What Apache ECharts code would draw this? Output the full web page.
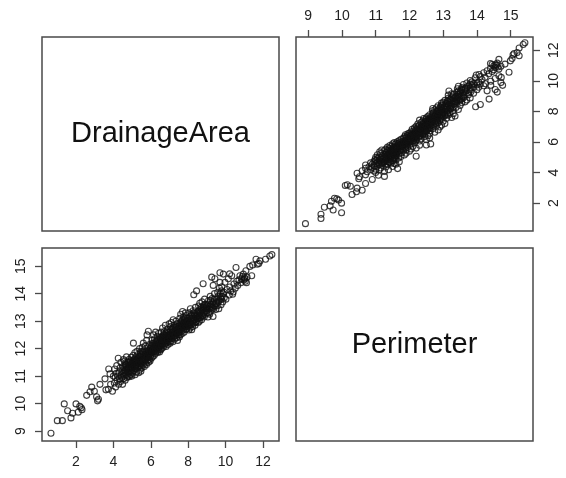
<!DOCTYPE html>
<html>
<head>
<meta charset="utf-8">
<script src="https://cdn.jsdelivr.net/npm/echarts@6/dist/echarts.min.js"></script>
<style>
  html, body { margin: 0; padding: 0; background: #fff; }
  #main { width: 566px; height: 478px; }
</style>
</head>
<body>
<div id="main"></div>
<script>
// variable names shown on the diagonal
var varNames = ['DrainageArea', 'Perimeter'];

// tick values of each variable
var areaTicks = [2, 4, 6, 8, 10, 12];
var perimTicks = [9, 10, 11, 12, 13, 14, 15];

// axis ranges (data range + 4%)
var areaRange = [0.18, 12.86];
var perimRange = [8.64, 15.66];

var obs = [
  [0.66,8.92],[1.0,9.38],[1.27,9.38],[1.37,9.99],[1.55,9.74],[1.73,9.48],[1.82,9.65],[2.0,9.99],[2.12,9.69],[2.2,9.9],
  [2.28,9.85],[2.32,9.78],[2.57,10.3],[2.75,10.43],[2.84,10.6],[2.98,10.45],[3.1,10.25],[3.15,10.1],[3.2,10.16],[3.28,10.7],
  [3.55,10.9],[3.6,10.5],[3.73,10.52],[3.75,11.26],[3.82,11.08],[3.85,10.7],[3.95,10.45],[4.0,11.0],[4.07,11.26],
  [4.05,10.75],[4.1,10.95],[4.12,10.6],[4.15,11.1],[4.18,11.38],[4.2,10.85],[4.22,11.0],[4.26,11.65],[4.28,10.7],[4.3,11.15],
  [4.33,10.9],[4.36,11.3],[4.38,10.8],[4.4,11.5],[4.42,11.05],[4.45,10.95],[4.47,11.2],[4.49,10.7],
  [4.52,11.1],[4.54,11.6],[4.55,10.9],[4.57,11.3],[4.58,11.0],[4.6,11.55],[4.62,11.2],[4.63,10.85],[4.65,11.4],[4.67,11.05],
  [4.68,11.25],[4.7,11.7],[4.72,10.95],[4.73,11.35],[4.75,11.15],[4.77,11.5],[4.78,11.0],[4.8,11.3],[4.82,11.1],[4.83,11.6],
  [4.85,10.98],[4.87,11.42],[4.88,11.2],[4.9,11.55],[4.92,11.05],[4.93,11.32],[4.95,11.68],[4.96,11.15],[4.98,11.45],[4.99,11.0],
  [5.0,11.3],[5.02,11.55],[5.03,11.1],[5.05,11.75],[5.07,12.2],[5.08,11.4],[5.1,11.2],[5.11,11.62],[5.13,11.35],[5.15,11.85],
  [5.16,11.05],[5.18,11.5],[5.2,11.28],[5.21,11.7],[5.23,11.42],[5.25,11.15],[5.26,11.9],[5.28,11.55],[5.3,11.3],[5.31,11.78],
  [5.33,11.48],[5.35,11.12],[5.36,11.65],[5.38,11.38],[5.4,12.0],[5.41,11.55],[5.42,11.44],[5.43,11.25],[5.45,11.72],[5.46,11.5],
  [5.47,11.18],[5.48,11.9],[5.49,11.6],[5.25,11.6],[5.12,11.48],[5.35,11.52],[5.44,11.82],[5.19,11.38],
  [5.5,11.45],[5.51,11.75],[5.53,11.3],[5.54,12.05],[5.56,11.6],[5.57,11.88],[5.59,11.4],[5.6,12.2],[5.62,11.7],[5.63,11.52],
  [5.65,11.95],[5.66,11.35],[5.68,11.8],[5.69,11.62],[5.71,12.1],[5.72,11.48],[5.74,11.9],[5.75,11.7],[5.77,11.42],[5.78,12.3],
  [5.8,12.5],[5.81,11.85],[5.83,11.58],[5.84,12.02],[5.86,11.75],[5.87,12.63],[5.88,11.5],[5.9,11.92],[5.91,11.68],[5.93,12.15],
  [5.94,11.82],[5.96,11.55],[5.97,12.0],[5.99,11.72],[5.58,11.62],[5.7,11.78],[5.85,11.9],[5.95,11.88],
  [6.0,11.85],[6.02,12.1],[6.03,11.65],[6.05,11.8],[6.06,12.3],[6.08,11.95],[6.1,11.7],[6.11,12.2],[6.13,11.88],[6.15,12.5],
  [6.16,12.05],[6.18,11.75],[6.2,12.35],[6.21,11.98],[6.23,12.15],[6.25,11.82],[6.26,12.6],[6.28,12.08],[6.3,11.9],[6.31,12.28],
  [6.33,12.0],[6.35,12.45],[6.36,11.86],[6.38,12.18],[6.4,12.05],[6.41,12.55],[6.43,11.95],[6.44,12.32],[6.46,12.1],[6.47,11.88],
  [6.49,12.4],[6.12,12.02],[6.27,12.22],[6.42,12.12],
  [6.5,12.1],[6.52,12.35],[6.53,11.95],[6.55,12.6],[6.57,12.2],[6.58,12.0],[6.6,12.45],[6.62,12.15],[6.63,12.75],[6.65,12.3],
  [6.67,12.05],[6.68,12.5],[6.7,12.25],[6.72,12.12],[6.73,12.62],[6.75,12.4],[6.77,12.18],[6.78,12.85],[6.8,12.35],[6.82,12.08],
  [6.83,12.55],[6.85,12.3],[6.87,12.22],[6.88,12.7],[6.9,12.42],[6.92,12.15],[6.93,12.58],[6.95,12.38],[6.97,12.25],[6.98,12.9],
  [6.6,12.28],[6.85,12.48],
  [7.0,12.35],[7.02,12.6],[7.03,12.2],[7.05,12.8],[7.07,12.45],[7.08,12.28],[7.1,12.95],[7.12,12.55],[7.13,12.38],[7.15,12.7],
  [7.17,12.5],[7.18,12.25],[7.2,13.05],[7.22,12.62],[7.23,12.42],[7.25,12.85],[7.27,12.55],[7.28,12.35],[7.3,12.75],[7.32,12.6],
  [7.33,12.48],[7.35,13.0],[7.37,12.68],[7.38,12.4],[7.4,12.9],[7.42,12.58],[7.43,12.3],[7.45,12.8],[7.47,12.65],[7.49,12.5],
  [7.5,12.6],[7.52,12.85],[7.53,12.42],[7.55,13.1],[7.57,12.7],[7.58,12.5],[7.6,13.25],[7.62,12.82],[7.63,12.62],[7.65,13.0],
  [7.67,12.75],[7.68,12.55],[7.7,13.35],[7.72,12.9],[7.73,12.68],[7.75,13.15],[7.77,12.85],[7.78,12.6],[7.8,13.05],[7.82,12.78],
  [7.83,12.95],[7.85,13.3],[7.87,12.88],[7.88,12.7],[7.9,13.2],[7.92,12.98],[7.93,12.72],[7.95,13.1],[7.97,12.9],[7.99,12.8],
  [8.0,12.85],[8.02,13.1],[8.04,12.68],[8.06,13.3],[8.08,12.95],[8.1,12.75],[8.12,13.45],[8.14,13.05],[8.16,12.88],[8.19,12.69],
  [8.2,13.2],[8.22,13.0],[8.24,12.8],[8.26,13.38],[8.28,13.1],[8.3,13.96],[8.31,12.92],[8.33,13.25],[8.35,13.05],[8.37,12.85],
  [8.39,13.5],[8.41,13.15],[8.43,12.98],[8.45,14.1],[8.46,13.3],[8.48,13.08],
  [8.5,13.1],[8.52,13.35],[8.54,12.95],[8.56,13.55],[8.58,13.2],[8.6,13.0],[8.62,13.65],[8.64,13.3],[8.66,13.12],[8.68,13.5],
  [8.7,13.25],[8.72,13.05],[8.74,13.7],[8.76,13.4],[8.78,13.2],[8.8,14.36],[8.82,13.55],[8.84,13.3],[8.86,13.15],[8.88,13.8],
  [8.9,13.45],[8.92,13.25],[8.95,13.6],[8.98,13.38],
  [9.0,13.3],[9.03,13.55],[9.06,13.15],[9.09,13.75],[9.12,13.45],[9.15,13.25],[9.18,13.9],[9.21,13.6],[9.24,13.4],[9.26,14.6],
  [9.28,13.82],[9.31,13.5],[9.33,13.17],[9.34,14.3],[9.36,13.7],[9.39,13.55],[9.41,14.0],[9.43,14.54],[9.46,13.65],[9.48,13.42],
  [9.52,13.8],[9.55,13.55],[9.58,14.05],[9.61,13.7],[9.64,13.45],[9.67,14.2],[9.7,14.41],[9.7,14.76],[9.73,13.85],[9.76,13.6],
  [9.79,14.1],[9.82,13.9],[9.85,13.7],[9.88,14.71],[9.92,14.05],[9.97,14.41],[9.8,14.25],
  [10.02,13.8],[10.08,14.15],[10.15,14.54],[10.2,13.95],[10.23,14.24],[10.28,14.1],[10.33,14.65],[10.38,13.98],[10.41,14.06],[10.45,14.35],
  [10.22,14.72],
  [10.52,14.2],[10.56,14.95],[10.6,14.45],[10.65,14.3],[10.72,14.5],[10.77,14.65],[10.82,14.4],[10.86,14.54],[10.9,14.62],[10.95,14.71],
  [10.98,14.5],[11.02,14.58],[11.04,14.54],[11.06,14.45],[11.09,14.83],[11.12,14.4],[11.15,14.6],[11.3,14.99],[11.4,14.65],[11.45,15.04],
  [11.63,15.25],[11.7,15.07],[11.78,15.1],[11.84,15.19],[12.14,15.25],[12.37,15.37],[12.48,15.42],
  // dense core of the band
  [4.51,11.35],[4.56,11.15],[4.61,11.45],[4.64,11.1],[4.69,11.42],[4.74,11.22],[4.79,11.52],[4.84,11.28],[4.89,11.38],[4.94,11.5],[4.97,11.25],
  [5.01,11.45],[5.04,11.3],[5.09,11.58],[5.14,11.6],[5.17,11.3],[5.22,11.55],[5.27,11.42],[5.32,11.62],[5.37,11.5],[5.39,11.7],[5.45,11.35],
  [5.52,11.55],[5.55,11.8],[5.61,11.58],[5.64,11.72],[5.67,11.55],[5.73,11.62],[5.76,11.85],[5.79,11.65],[5.82,11.72],[5.89,11.8],[5.92,11.6],[5.98,11.85],
  [6.01,11.95],[6.04,12.05],[6.07,11.9],[6.09,12.12],[6.14,11.95],[6.17,12.2],[6.22,12.1],[6.24,11.92],[6.29,12.15],[6.32,12.05],[6.37,12.3],[6.39,12.0],[6.45,12.22],[6.48,12.05],
  [6.51,12.22],[6.54,12.4],[6.56,12.12],[6.59,12.32],[6.64,12.2],[6.66,12.42],[6.69,12.35],[6.71,12.5],[6.74,12.3],[6.79,12.48],[6.81,12.25],[6.86,12.6],[6.89,12.32],[6.94,12.5],[6.96,12.45],
  [7.01,12.5],[7.04,12.4],[7.06,12.65],[7.09,12.5],[7.11,12.72],[7.14,12.45],[7.19,12.6],[7.21,12.78],[7.24,12.55],[7.29,12.68],[7.31,12.5],[7.36,12.8],[7.39,12.62],[7.44,12.72],[7.46,12.55],
  [7.51,12.72],[7.54,12.92],[7.56,12.62],[7.59,12.8],[7.61,12.95],[7.64,12.72],[7.69,12.85],[7.71,13.05],[7.74,12.8],[7.79,12.95],[7.81,13.12],[7.84,12.85],[7.89,13.0],[7.91,12.82],[7.96,13.02],
  [8.01,13.0],[8.05,12.85],[8.09,13.15],[8.13,12.95],[8.17,13.22],[8.21,13.1],[8.25,12.95],[8.29,13.3],[8.32,13.05],[8.36,13.2],[8.4,12.95],[8.44,13.2],
  [8.51,13.25],[8.55,13.1],[8.59,13.4],[8.63,13.15],[8.67,13.35],[8.71,13.45],[8.75,13.2],[8.79,13.5],[8.83,13.4],[8.87,13.6],[8.91,13.35],[8.96,13.5],
  [9.02,13.45],[9.07,13.62],[9.11,13.3],[9.16,13.52],[9.2,13.75],[9.25,13.5],[9.3,13.65],[9.35,13.45],[9.4,13.8],[9.45,13.55],
  [9.53,13.65],[9.6,13.9],[9.66,13.75],[9.72,14.0],[9.78,13.8],[9.86,14.0],[9.93,13.85]
];

var chartDom = document.getElementById('main');
var myChart = echarts.init(chartDom, null, { renderer: 'canvas' });

var fontFamily = '"Liberation Sans", Arial, sans-serif';
var boxColor = '#4a4a4a';
var textColor = '#222';

// panel layout: top-left, top-right, bottom-left, bottom-right
var panels = [
  { left: 42, top: 37, width: 237, height: 194 },
  { left: 296, top: 37, width: 237, height: 194 },
  { left: 42, top: 248, width: 237, height: 193 },
  { left: 296, top: 248, width: 237, height: 193 }
];

function makeAxis(gridIndex, position, range, ticks, rotate) {
  return {
    type: 'value',
    gridIndex: gridIndex,
    position: position,
    min: range[0],
    max: range[1],
    axisLine: { show: false },
    splitLine: { show: false },
    axisTick: {
      show: true,
      inside: false,
      length: 7,
      customValues: ticks,
      lineStyle: { color: boxColor, width: 1.3 }
    },
    axisLabel: {
      show: true,
      customValues: ticks,
      margin: 14,
      rotate: rotate,
      color: textColor,
      fontSize: 14,
      fontFamily: fontFamily
    }
  };
}

function hiddenAxis(gridIndex) {
  return { type: 'value', gridIndex: gridIndex, show: false, min: 0, max: 1 };
}

var pointStyle = { color: 'rgba(255,255,255,0)', borderColor: '#111', borderWidth: 1.1 };

var option = {
  animation: false,
  backgroundColor: '#fff',
  grid: panels.map(function (p) {
    return {
      left: p.left, top: p.top, width: p.width, height: p.height,
      show: true, borderColor: boxColor, borderWidth: 1.5, backgroundColor: 'transparent'
    };
  }),
  xAxis: [
    hiddenAxis(0),
    makeAxis(1, 'top', perimRange, perimTicks, 0),
    makeAxis(2, 'bottom', areaRange, areaTicks, 0),
    hiddenAxis(3)
  ],
  yAxis: [
    hiddenAxis(0),
    makeAxis(1, 'right', areaRange, areaTicks, 90),
    makeAxis(2, 'left', perimRange, perimTicks, 90),
    hiddenAxis(3)
  ],
  graphic: [
    {
      type: 'text',
      x: panels[0].left + panels[0].width / 2,
      y: panels[0].top + panels[0].height / 2,
      style: {
        text: varNames[0], fill: '#111', font: '29px ' + fontFamily,
        textAlign: 'center', textVerticalAlign: 'middle'
      }
    },
    {
      type: 'text',
      x: panels[3].left + panels[3].width / 2,
      y: panels[3].top + panels[3].height / 2,
      style: {
        text: varNames[1], fill: '#111', font: '29px ' + fontFamily,
        textAlign: 'center', textVerticalAlign: 'middle'
      }
    }
  ],
  series: [
    {
      // Perimeter (x) vs DrainageArea (y)
      type: 'scatter',
      xAxisIndex: 1,
      yAxisIndex: 1,
      symbol: 'circle',
      symbolSize: 6,
      data: obs.map(function (d) { return [d[1], d[0]]; }),
      itemStyle: pointStyle
    },
    {
      // DrainageArea (x) vs Perimeter (y)
      type: 'scatter',
      xAxisIndex: 2,
      yAxisIndex: 2,
      symbol: 'circle',
      symbolSize: 6,
      data: obs,
      itemStyle: pointStyle
    }
  ]
};
myChart.setOption(option);
</script>
</body>
</html>
